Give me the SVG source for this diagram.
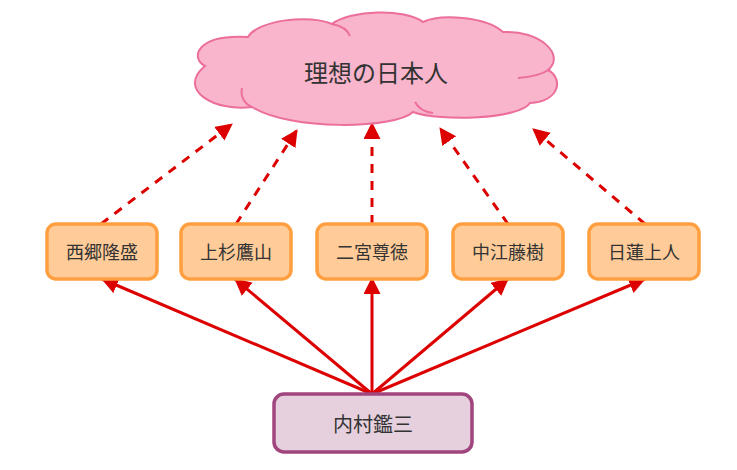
<svg xmlns="http://www.w3.org/2000/svg" width="737" height="470" viewBox="0 0 737 470">
<style>
  text { font-family: "Noto Sans CJK JP", "Noto Sans", sans-serif; fill: #333333; text-anchor: middle; dominant-baseline: central; }
  .person rect { fill: #FFCC99; stroke: #FF9F40; stroke-width: 3.5; }
  .person text { font-size: 18px; }
  .solid { stroke: #DD0000; stroke-width: 3; fill: none; marker-end: url(#ah); }
  .dash { stroke: #DD0000; stroke-width: 3; fill: none; stroke-dasharray: 9 8; marker-end: url(#ah); }
  .cloud { fill: #F8B5CC; stroke: #EC6E9C; stroke-width: 2; }
  .inner { fill: none; stroke: #EC6E9C; stroke-width: 2; }
</style>
<defs>
  <marker id="ah" markerUnits="userSpaceOnUse" markerWidth="18" markerHeight="18" refX="16" refY="8.5" orient="auto">
    <path d="M0,0 L17,8.5 L0,17 Z" fill="#DD0000"/>
  </marker>
</defs>
<rect width="737" height="470" fill="#FFFFFF"/>

<g id="connectors">
  <line class="solid" x1="372" y1="394" x2="102" y2="279"/>
  <line class="solid" x1="372" y1="394" x2="235" y2="279"/>
  <line class="solid" x1="372" y1="394" x2="372" y2="278"/>
  <line class="solid" x1="372" y1="394" x2="508" y2="279"/>
  <line class="solid" x1="372" y1="394" x2="645" y2="279"/>
  <line class="dash" x1="101" y1="224" x2="232" y2="124"/>
  <line class="dash" x1="236" y1="224" x2="297" y2="130"/>
  <line class="dash" x1="372" y1="224" x2="372" y2="123"/>
  <line class="dash" x1="508" y1="224" x2="440" y2="128"/>
  <line class="dash" x1="645" y1="224" x2="533" y2="129"/>
</g>

<g id="ideal">
  <path class="cloud" d="M205,66 C190,58 196,34 248,37 C258,20 310,14 332,24 C350,10 405,8 423,22 C440,14 485,16 503,32 C540,30 566,55 548,70 C563,78 561,101 530,103 C520,119 440,122 413,112 C395,129 290,131 252,107 C215,112 176,90 205,66 Z"/>
  <path class="inner" d="M332,24 C342,26 348,30 350,36"/>
  <path class="inner" d="M242,88 C240,97 245,104 252,107"/>
  <path class="inner" d="M415,102 C418,108 425,112 433,113"/>
  <path class="inner" d="M518,78 C532,77 543,74 550,69"/>
  <text x="376" y="71" font-size="24">理想の日本人</text>
</g>

<g id="saigo" class="person">
  <rect x="47" y="224" width="110" height="55" rx="9"/>
  <text x="102" y="251">西郷隆盛</text>
</g>
<g id="uesugi" class="person">
  <rect x="181" y="224" width="110" height="55" rx="9"/>
  <text x="236" y="251">上杉鷹山</text>
</g>
<g id="ninomiya" class="person">
  <rect x="317" y="224" width="110" height="55" rx="9"/>
  <text x="372" y="251">二宮尊徳</text>
</g>
<g id="nakae" class="person">
  <rect x="453" y="224" width="110" height="55" rx="9"/>
  <text x="508" y="251">中江藤樹</text>
</g>
<g id="nichiren" class="person">
  <rect x="589" y="224" width="110" height="55" rx="9"/>
  <text x="644" y="251">日蓮上人</text>
</g>

<g id="uchimura">
  <rect x="274" y="394" width="198" height="58" rx="10" fill="#E6D0DE" stroke="#A0457E" stroke-width="3.5"/>
  <text x="373" y="423" font-size="20">内村鑑三</text>
</g>
</svg>
